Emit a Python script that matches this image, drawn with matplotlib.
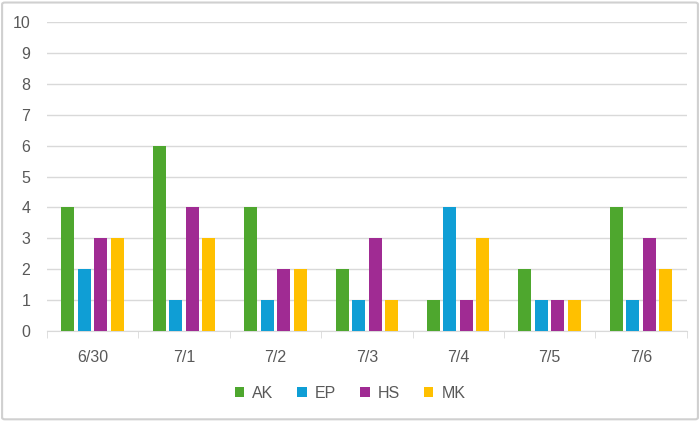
import numpy as np
import matplotlib.pyplot as plt
from matplotlib.patches import FancyBboxPatch

dates = ['6/30', '7/1', '7/2', '7/3', '7/4', '7/5', '7/6']
ak = [4, 6, 4, 2, 1, 2, 4]
ep = [2, 1, 1, 1, 4, 1, 1]
hs = [3, 4, 2, 3, 1, 1, 3]
mk = [3, 3, 2, 1, 3, 1, 2]
names = ['AK', 'EP', 'HS', 'MK']
colors = ['#4EA72E', '#0F9ED5', '#A02B93', '#FFC000']

plt.rcParams['font.family'] = ['Liberation Sans', 'DejaVu Sans']

fig = plt.figure(figsize=(7, 4.21), dpi=100)
ax = fig.add_axes([0.067, 0.214, 0.914, 0.733])

# light border round the whole chart
fig.patches.append(FancyBboxPatch((0.003, 0.004), 0.994, 0.99, boxstyle='round,pad=0,rounding_size=0.004',
                                  transform=fig.transFigure, fc='none', ec='#d0d0d0', lw=1.5))

x = np.arange(len(dates))
step = 0.18
w = 0.142
for i, (vals, n, c) in enumerate(zip([ak, ep, hs, mk], names, colors)):
    ax.bar(x + (i - 1.5) * step, vals, width=w, color=c, label=n, zorder=3)

ax.set_xlim(-0.5, len(dates) - 0.5)
ax.set_ylim(0, 10)
ax.set_yticks(range(0, 11))
ax.grid(axis='y', color='#d9d9d9', lw=1, zorder=0)
ax.set_xticks(x)
ax.set_xticklabels(dates)
ax.set_xticks(np.arange(-0.5, len(dates)), minor=True)
ax.tick_params(axis='x', which='major', length=0, pad=14, labelsize=11.5, labelcolor='#595959')
ax.tick_params(axis='x', which='minor', length=5, color='#d9d9d9')
ax.tick_params(axis='y', length=0, pad=12, labelsize=11.5, labelcolor='#595959')
for s in ['top', 'right', 'left']:
    ax.spines[s].set_visible(False)
ax.spines['bottom'].set_color('#d9d9d9')

fig.legend(loc='center', bbox_to_anchor=(0.5, 0.066), ncol=4, frameon=False, fontsize=11.5,
           handlelength=0.6, handleheight=0.6, handletextpad=0.5, columnspacing=1.5,
           labelcolor='#595959')

fig.savefig('out.png', dpi=100)
